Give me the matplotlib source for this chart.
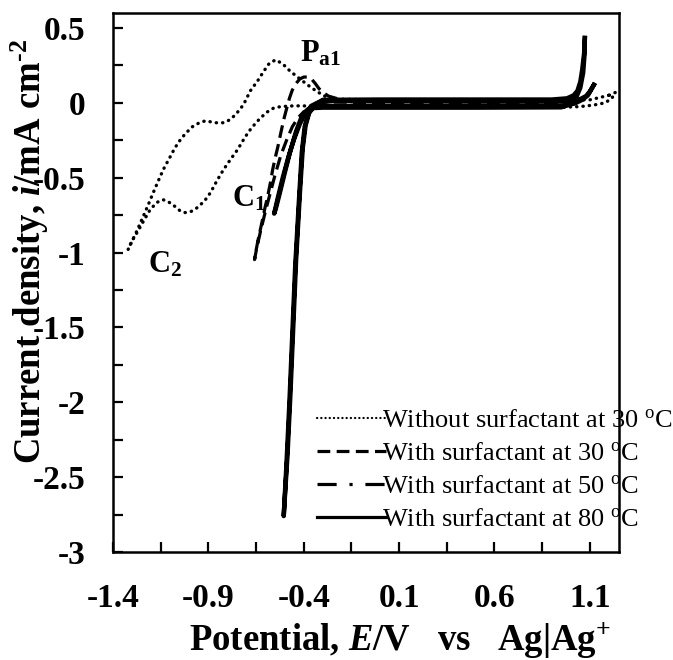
import matplotlib
matplotlib.use("Agg")
import matplotlib.pyplot as plt
from matplotlib.lines import Line2D

plt.rcParams['font.family'] = ['Liberation Serif', 'DejaVu Serif']
plt.rcParams['mathtext.fontset'] = 'custom'
plt.rcParams['mathtext.rm'] = 'Liberation Serif'
plt.rcParams['mathtext.bf'] = 'Liberation Serif:bold'
plt.rcParams['mathtext.it'] = 'Liberation Serif:italic:bold'
plt.rcParams['axes.unicode_minus'] = False

# ---------------- data ----------------
x_ticks = [-1.4, -0.9, -0.4, 0.1, 0.6, 1.1]
x_tick_labels = ["-1.4", "-0.9", "-0.4", "0.1", "0.6", "1.1"]
x_minor = [-1.15, -0.65, -0.15, 0.35, 0.85]
y_ticks = [0.5, 0, -0.5, -1, -1.5, -2, -2.5, -3]
y_tick_labels = ["0.5", "0", "-0.5", "-1", "-1.5", "-2", "-2.5", "-3"]
y_minor = [0.25, -0.25, -0.75, -1.25, -1.75, -2.25, -2.75]

labels = ["Without surfactant at 30 $^{\\mathrm{o}}$C",
          "With surfactant at 30 $^{\\mathrm{o}}$C",
          "With surfactant at 50 $^{\\mathrm{o}}$C",
          "With surfactant at 80 $^{\\mathrm{o}}$C"]

# without surfactant, 30 C
x_no30 = [1.20, 1.10, 0.90, 0.50, 0.00, -0.25, -0.29, -0.33, -0.38, -0.43, -0.47, -0.51, -0.547,
          -0.58, -0.61, -0.64, -0.68, -0.716, -0.758, -0.79, -0.821, -0.863, -0.916, -0.95, -0.984,
          -1.02, -1.047, -1.075, -1.10, -1.13, -1.153, -1.189, -1.215, -1.242, -1.28, -1.321,
          -1.30, -1.274, -1.24, -1.205, -1.17, -1.137, -1.105, -1.074, -1.045, -1.021, -0.99,
          -0.958, -0.92, -0.889, -0.855, -0.821, -0.785, -0.747, -0.72, -0.689, -0.655, -0.626,
          -0.59, -0.558, -0.52, -0.45, 0.00, 0.50, 0.95, 1.05, 1.12, 1.18, 1.215, 1.235, 1.22, 1.20]
y_no30 = [0.05, 0.02, 0.02, 0.02, 0.02, 0.025, 0.045, 0.075, 0.12, 0.17, 0.21, 0.26, 0.287,
          0.265, 0.21, 0.15, 0.08, -0.013, -0.08, -0.115, -0.133, -0.133, -0.12, -0.135, -0.16,
          -0.205, -0.247, -0.30, -0.36, -0.43, -0.493, -0.60, -0.68, -0.76, -0.87, -0.98,
          -0.92, -0.867, -0.79, -0.713, -0.665, -0.647, -0.665, -0.693, -0.725, -0.733, -0.725,
          -0.70, -0.655, -0.60, -0.52, -0.447, -0.38, -0.313, -0.255, -0.193, -0.14, -0.10,
          -0.06, -0.035, -0.025, -0.02, -0.025, -0.03, -0.03, -0.025, -0.015, 0.0, 0.03, 0.07, 0.06, 0.05]

# with surfactant, 30 C
x_s30 = [1.03, 1.00, 0.90, 0.00, -0.30, -0.36, -0.40, -0.43, -0.46, -0.49, -0.52, -0.55, -0.575,
         -0.60, -0.625, -0.645, -0.658, -0.652, -0.64, -0.628, -0.616, -0.603, -0.59, -0.575,
         -0.563, -0.55, -0.535, -0.52, -0.505, -0.49, -0.475, -0.46, -0.44, -0.42, -0.40, -0.38,
         -0.36, -0.34, -0.32, -0.30, -0.27, -0.23, -0.15, 0.50, 1.00, 1.03]
y_s30 = [0.0, -0.01, -0.01, -0.01, -0.015, -0.035, -0.06, -0.10, -0.16, -0.25, -0.35, -0.48, -0.60,
         -0.72, -0.85, -0.96, -1.047, -1.00, -0.92, -0.85, -0.78, -0.70, -0.63, -0.535,
         -0.447, -0.37, -0.29, -0.20, -0.113, -0.04, 0.03, 0.085, 0.13, 0.16, 0.172, 0.173,
         0.16, 0.13, 0.095, 0.07, 0.045, 0.03, 0.008, 0.005, 0.005, 0.0]

# with surfactant, 50 C
x_s50 = [1.121, 1.10, 1.08, 1.05, 1.00, 0.50, -0.25, -0.32, -0.36, -0.39, -0.42, -0.45, -0.48,
         -0.51, -0.535, -0.555, -0.545, -0.525, -0.50, -0.47, -0.44, -0.41, -0.38, -0.34, -0.30,
         0.50, 0.95, 1.02, 1.06, 1.09, 1.121]
y_s50 = [0.12, 0.075, 0.045, 0.025, 0.013, 0.012, 0.012, 0.005, -0.02, -0.07, -0.14, -0.24, -0.36,
         -0.50, -0.63, -0.74, -0.70, -0.60, -0.47, -0.32, -0.19, -0.09, -0.045, -0.025, -0.022,
         -0.022, -0.02, -0.005, 0.02, 0.05, 0.12]

# with surfactant, 80 C
x_s80 = [1.074, 1.07, 1.06, 1.05, 1.035, 1.015, 0.98, 0.90, 0.00, -0.30, -0.34, -0.37, -0.39,
         -0.405, -0.42, -0.44, -0.455, -0.47, -0.485, -0.505, -0.49, -0.475, -0.46, -0.445,
         -0.425, -0.41, -0.395, -0.375, -0.35, -0.30, 0.50, 0.95, 1.00, 1.03, 1.05, 1.065, 1.072, 1.074]
y_s80 = [0.433, 0.33, 0.22, 0.14, 0.08, 0.05, 0.03, 0.022, 0.022, 0.02, -0.01, -0.06, -0.15,
         -0.30, -0.60, -1.05, -1.50, -1.95, -2.35, -2.76, -2.40, -2.00, -1.55, -1.10,
         -0.65, -0.33, -0.16, -0.07, -0.035, -0.032, -0.032, -0.03, -0.01, 0.04, 0.10, 0.20, 0.32, 0.433]

# ---------------- figure ----------------
fig = plt.figure(figsize=(6.73, 6.60), dpi=100)
ax = fig.add_axes([113/673, 1-552/660, (619-113)/673, (552-13)/660])

dot_style = (0, (0.1, 1.8))
ax.plot(x_no30, y_no30, color='black', linestyle=dot_style, linewidth=2.4,
        dash_capstyle='round')
ax.plot(x_s30, y_s30, color='black', linestyle=(0, (4, 2)), linewidth=2.3)
ax.plot(x_s50, y_s50, color='black', linestyle='-', linewidth=3.2)
ax.plot(x_s80, y_s80, color='black', linestyle='-', linewidth=3.2)

ax.set_xlim(-1.4, 1.253)
ax.set_ylim(-3, 0.6)
ax.set_xticks(x_ticks)
ax.set_xticklabels(x_tick_labels)
ax.set_xticks(x_minor, minor=True)
ax.set_yticks(y_ticks)
ax.set_yticklabels(y_tick_labels)
ax.set_yticks(y_minor, minor=True)
ax.tick_params(which='both', direction='in', length=7, width=1.6, top=False, right=False)
ax.tick_params(axis='y', which='major', pad=20)
ax.tick_params(axis='x', which='major', pad=22)
for lab in ax.get_xticklabels() + ax.get_yticklabels():
    lab.set_fontsize(24)
    lab.set_fontweight('bold')
for sp in ax.spines.values():
    sp.set_linewidth(1.8)

# annotations
ax.text(-0.42, 0.273, "P$_{\\mathbf{a1}}$", fontsize=22, fontweight='bold', ha='left', va='baseline')
ax.text(-0.776, -0.693, "C$_{\\mathbf{1}}$", fontsize=22, fontweight='bold', ha='left', va='baseline')
ax.text(-1.218, -1.133, "C$_{\\mathbf{2}}$", fontsize=22, fontweight='bold', ha='left', va='baseline')

# axis labels
fig.text(30/673, 1-252/660, "Current density, $\\mathit{i}$/mA cm$^{\\mathbf{\u20102}}$",
         rotation=90, fontsize=26.5, fontweight='bold', ha='center', va='center')
fig.text(400/673, 1-640/660, "Potential, $\\mathit{E}$/V   vs   Ag|Ag$^{\\mathbf{+}}$",
         fontsize=26.5, fontweight='bold', ha='center', va='center')

handles = [Line2D([], [], color='black', linestyle=dot_style, linewidth=1.6, dash_capstyle='round'),
           Line2D([], [], color='black', linestyle=(0, (4, 2)), linewidth=2.3),
           Line2D([], [], color='black', linestyle=(0, (6, 4, 1, 4)), linewidth=2.3),
           Line2D([], [], color='black', linestyle='-', linewidth=2.3)]
leg = fig.legend(handles, labels, loc='upper left', bbox_to_anchor=(317/673, 1-409/660),
                 frameon=False, fontsize=19, handlelength=2.6, handletextpad=-0.15,
                 labelspacing=0.36, borderpad=0, borderaxespad=0)

fig.savefig("out.png", dpi=100)
